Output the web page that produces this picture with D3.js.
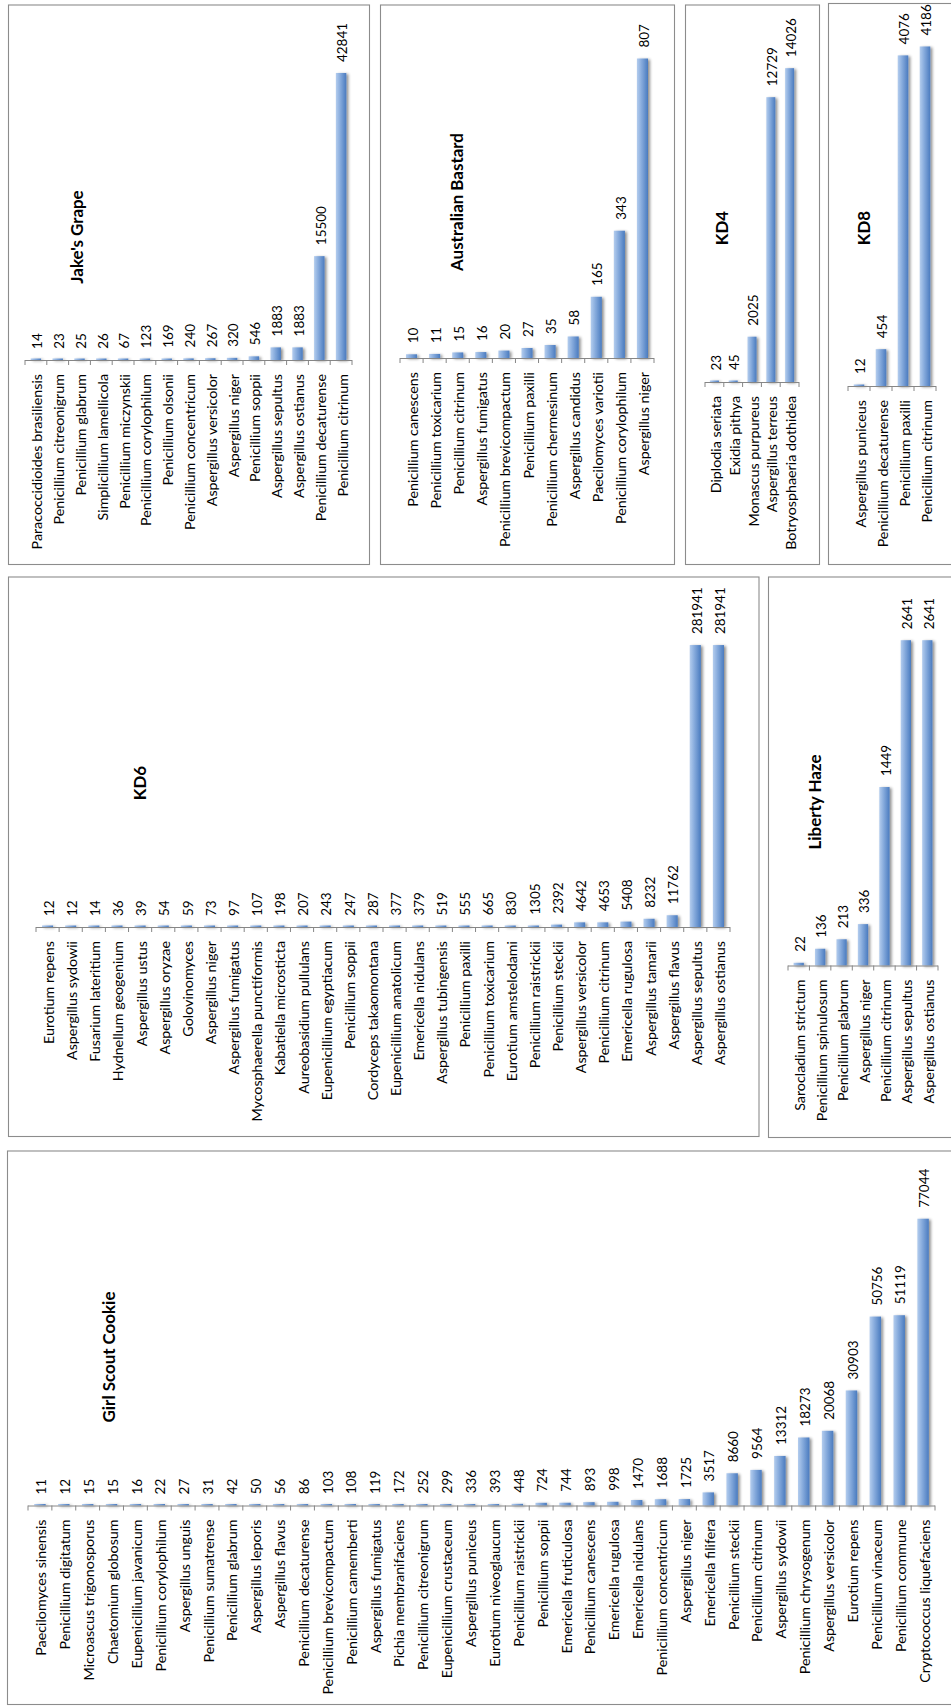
<!DOCTYPE html>
<html>
<head>
<meta charset="utf-8">
<script src="https://cdn.jsdelivr.net/npm/d3@7"></script>
<style>
  html, body { margin: 0; padding: 0; background: #fff; }
  svg { display: block; }
</style>
</head>
<body>
<svg id="fig" width="951" height="1707"></svg>
<script>
// ---------- read counts per sample ----------
const jakesGrapeTaxa = ["Paracoccidioides brasiliensis","Penicillium citreonigrum","Penicillium glabrum","Simplicillium lamellicola","Penicillium miczynskii","Penicillium corylophilum","Penicillium olsonii","Penicillium concentricum","Aspergillus versicolor","Aspergillus niger","Penicillium soppii","Aspergillus sepultus","Aspergillus ostianus","Penicillium decaturense","Penicillium citrinum"];
const jakesGrapeCounts = [14,23,25,26,67,123,169,240,267,320,546,1883,1883,15500,42841];

const australianBastardTaxa = ["Penicillium canescens","Penicillium toxicarium","Penicillium citrinum","Aspergillus fumigatus","Penicillium brevicompactum","Penicillium paxilli","Penicillium chermesinum","Aspergillus candidus","Paecilomyces variotii","Penicillium corylophilum","Aspergillus niger"];
const australianBastardCounts = [10,11,15,16,20,27,35,58,165,343,807];

const kd4Taxa = ["Diplodia seriata","Exidia pithya","Monascus purpureus","Aspergillus terreus","Botryosphaeria dothidea"];
const kd4Counts = [23,45,2025,12729,14026];

const kd8Taxa = ["Aspergillus puniceus","Penicillium decaturense","Penicillium paxilli","Penicillium citrinum"];
const kd8Counts = [12,454,4076,4186];

const kd6Taxa = ["Eurotium repens","Aspergillus sydowii","Fusarium lateritium","Hydnellum geogenium","Aspergillus ustus","Aspergillus oryzae","Golovinomyces","Aspergillus niger","Aspergillus fumigatus","Mycosphaerella punctiformis","Kabatiella microsticta","Aureobasidium pullulans","Eupenicillium egyptiacum","Penicillium soppii","Cordyceps takaomontana","Eupenicillium anatolicum","Emericella nidulans","Aspergillus tubingensis","Penicillium paxilli","Penicillium toxicarium","Eurotium amstelodami","Penicillium raistrickii","Penicillium steckii","Aspergillus versicolor","Penicillium citrinum","Emericella rugulosa","Aspergillus tamarii","Aspergillus flavus","Aspergillus sepultus","Aspergillus ostianus"];
const kd6Counts = [12,12,14,36,39,54,59,73,97,107,198,207,243,247,287,377,379,519,555,665,830,1305,2392,4642,4653,5408,8232,11762,281941,281941];

const libertyHazeTaxa = ["Sarocladium strictum","Penicillium spinulosum","Penicillium glabrum","Aspergillus niger","Penicillium citrinum","Aspergillus sepultus","Aspergillus ostianus"];
const libertyHazeCounts = [22,136,213,336,1449,2641,2641];

const girlScoutCookieTaxa = ["Paecilomyces sinensis","Penicillium digitatum","Microascus trigonosporus","Chaetomium globosum","Eupenicillium javanicum","Penicillium corylophilum","Aspergillus unguis","Penicillium sumatrense","Penicillium glabrum","Aspergillus leporis","Aspergillus flavus","Penicillium decaturense","Penicillium brevicompactum","Penicillium camemberti","Aspergillus fumigatus","Pichia membranifaciens","Penicillium citreonigrum","Eupenicillium crustaceum","Aspergillus puniceus","Eurotium niveoglaucum","Penicillium raistrickii","Penicillium soppii","Emericella fruticulosa","Penicillium canescens","Emericella rugulosa","Emericella nidulans","Penicillium concentricum","Aspergillus niger","Emericella filifera","Penicillium steckii","Penicillium citrinum","Aspergillus sydowii","Penicillium chrysogenum","Aspergillus versicolor","Eurotium repens","Penicillium vinaceum","Penicillium commune","Cryptococcus liquefaciens"];
const girlScoutCookieCounts = [11,12,15,15,16,22,27,31,42,50,56,86,103,108,119,172,252,299,336,393,448,724,744,893,998,1470,1688,1725,3517,8660,9564,13312,18273,20068,30903,50756,51119,77044];

const sampleTitles = ["Jake's Grape","Australian Bastard","KD4","KD8","KD6","Liberty Haze","Girl Scout Cookie"];

// ---------- panel geometry ----------
// box: frame [x0,y0,x1,y1]; axis: category axis [x0,x1]; base/top: value-axis pixels; max: value-axis maximum
const panelLayout = [
  { box:[8,4.5,369,564],     axis:[25,352],  base:360,    top:25,     max:50000,  title:[77,237]  },
  { box:[380,4.5,674,564],   axis:[400,654], base:358,    top:24,     max:900,    title:[457,202] },
  { box:[685,4.5,819,564],   axis:[705,799], base:382,    top:24,     max:16000,  title:[722,228] },
  { box:[828,3,953,564],     axis:[848,936], base:386,    top:21,     max:4500,   title:[864,228] },
  { box:[8,576.5,758.5,1136],axis:[36,730],  base:927,    top:627,    max:300000, title:[140,783] },
  { box:[768,576.5,953,1137],axis:[788,938], base:965.5,  top:596,    max:3000,   title:[815,802] },
  { box:[7,1150.5,953,1704], axis:[28,935],  base:1505.5, top:1170.5, max:90000,  title:[109,1357]}
];

const panels = [
  { title: sampleTitles[0], taxa: jakesGrapeTaxa,        counts: jakesGrapeCounts },
  { title: sampleTitles[1], taxa: australianBastardTaxa, counts: australianBastardCounts },
  { title: sampleTitles[2], taxa: kd4Taxa,               counts: kd4Counts },
  { title: sampleTitles[3], taxa: kd8Taxa,               counts: kd8Counts },
  { title: sampleTitles[4], taxa: kd6Taxa,               counts: kd6Counts },
  { title: sampleTitles[5], taxa: libertyHazeTaxa,       counts: libertyHazeCounts },
  { title: sampleTitles[6], taxa: girlScoutCookieTaxa,   counts: girlScoutCookieCounts }
];

const FONT = "Lato, 'Open Sans', 'Noto Sans', sans-serif";
const svg = d3.select("#fig");

// size fonts so sample strings reach the widths used in the figure
function fitSize(str, target, weight) {
  const t = svg.append("text").attr("font-family", FONT).attr("font-size", 100)
    .attr("font-weight", weight).text(str);
  const w = t.node().getComputedTextLength();
  t.remove();
  return 100 * target / w;
}
const labelSize = fitSize("Cryptococcus liquefaciens", 163.5, 400);
const valueSize = fitSize("42841", 39, 400);
const titleSize = fitSize("Girl Scout Cookie", 131, 700);

// bar fill and soft drop shadow
const defs = svg.append("defs");
const grad = defs.append("linearGradient").attr("id", "barFill")
  .attr("x1", 0).attr("y1", 0).attr("x2", 1).attr("y2", 0);
[[0, "#b4cdee"], [0.4, "#88acdd"], [1, "#4a7bbf"]].forEach(([o, c]) =>
  grad.append("stop").attr("offset", o).attr("stop-color", c));

const shadow = defs.append("filter").attr("id", "barShadow")
  .attr("filterUnits", "userSpaceOnUse").attr("x", 0).attr("y", 0)
  .attr("width", 951).attr("height", 1707);
shadow.append("feGaussianBlur").attr("in", "SourceAlpha").attr("stdDeviation", 1.4).attr("result", "b");
shadow.append("feOffset").attr("in", "b").attr("dx", 2.4).attr("dy", 1).attr("result", "o");
shadow.append("feComponentTransfer").attr("in", "o").attr("result", "s")
  .append("feFuncA").attr("type", "linear").attr("slope", 0.45);
const merge = shadow.append("feMerge");
merge.append("feMergeNode").attr("in", "s");
merge.append("feMergeNode").attr("in", "SourceGraphic");

panels.forEach((p, k) => {
  const L = panelLayout[k];
  const g = svg.append("g");
  const data = p.taxa.map((t, i) => ({ i, taxon: t, count: p.counts[i] }));

  // chart frame
  g.append("rect")
    .attr("x", L.box[0] + 0.5).attr("y", L.box[1] + 0.5)
    .attr("width", L.box[2] - L.box[0]).attr("height", L.box[3] - L.box[1])
    .attr("fill", "none").attr("stroke", "#8c8c8c").attr("stroke-width", 1.1);

  const x = d3.scaleBand().domain(d3.range(data.length)).range(L.axis)
    .paddingInner(0.52).paddingOuter(0.26);
  const y = d3.scaleLinear().domain([0, L.max]).range([L.base, L.top]);

  // bars (a hairline minimum keeps the smallest counts visible)
  g.selectAll("rect.bar").data(data).join("rect")
    .attr("class", "bar")
    .attr("x", d => x(d.i))
    .attr("y", d => Math.min(y(d.count), y(0) - 1.5))
    .attr("width", x.bandwidth())
    .attr("height", d => Math.max(1.5, y(0) - y(d.count)))
    .attr("fill", "url(#barFill)")
    .attr("filter", "url(#barShadow)");

  // category axis with ticks between categories
  const step = x.step();
  const x0 = L.axis[0];
  g.append("line")
    .attr("x1", L.axis[0]).attr("x2", L.axis[1])
    .attr("y1", L.base + 0.5).attr("y2", L.base + 0.5)
    .attr("stroke", "#868686").attr("stroke-width", 1);
  g.selectAll("line.tick").data(d3.range(data.length + 1)).join("line")
    .attr("class", "tick")
    .attr("x1", i => x0 + i * step).attr("x2", i => x0 + i * step)
    .attr("y1", L.base).attr("y2", L.base + 5)
    .attr("stroke", "#868686").attr("stroke-width", 1);

  // category labels, rotated
  g.selectAll("text.cat").data(data).join("text")
    .attr("class", "cat")
    .attr("transform", d => `translate(${x(d.i) + x.bandwidth() / 2 + 1.5},${L.base + 14}) rotate(-90)`)
    .attr("text-anchor", "end")
    .attr("dy", "0.35em")
    .attr("font-family", FONT).attr("font-size", labelSize)
    .attr("fill", "#000")
    .text(d => d.taxon);

  // value labels above bars
  g.selectAll("text.val").data(data).join("text")
    .attr("class", "val")
    .attr("transform", d => `translate(${x(d.i) + x.bandwidth() / 2 + 1.5},${y(d.count) - 11}) rotate(-90)`)
    .attr("text-anchor", "start")
    .attr("dy", "0.35em")
    .attr("font-family", FONT).attr("font-size", valueSize)
    .attr("fill", "#000")
    .text(d => d.count);

  // sample title
  g.append("text")
    .attr("transform", `translate(${L.title[0]},${L.title[1]}) rotate(-90)`)
    .attr("text-anchor", "middle")
    .attr("dy", "0.35em")
    .attr("font-family", FONT).attr("font-size", titleSize).attr("font-weight", 700)
    .attr("fill", "#000")
    .text(p.title);
});
</script>
</body>
</html>
